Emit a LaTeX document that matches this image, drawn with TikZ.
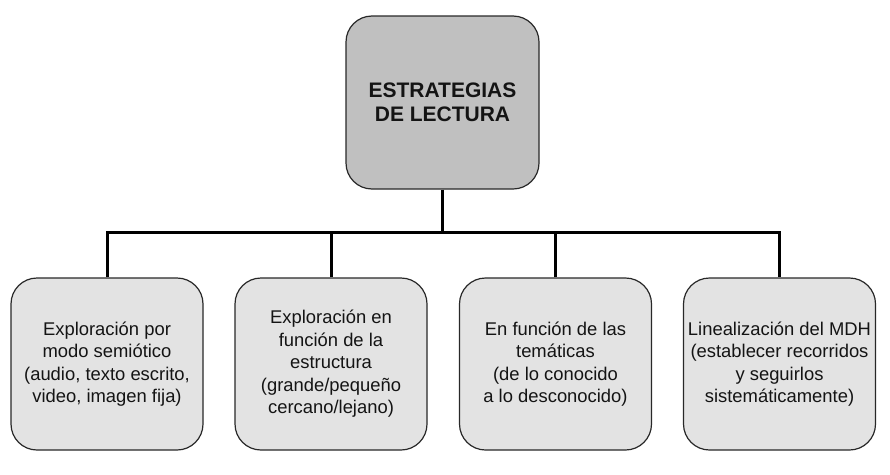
\documentclass[tikz,border=0pt]{standalone}
\usepackage{fontspec}
\setmainfont{Liberation Sans}
\definecolor{topfill}{RGB}{192,192,192}
\definecolor{boxfill}{RGB}{227,227,227}
\definecolor{edge}{RGB}{40,40,40}
\definecolor{txt}{RGB}{20,20,20}
\begin{document}
\begin{tikzpicture}[x=1pt,y=-1pt,
  box/.style={draw=edge, line width=1.2pt, rounded corners=26pt, fill=boxfill,
    minimum width=192pt, minimum height=172pt, align=center, inner sep=0pt,
    text=txt, font=\fontsize{18.4}{22.5}\selectfont},
  topbox/.style={box, fill=topfill, minimum width=193pt, minimum height=173pt,
    font=\fontsize{21}{24.5}\selectfont\bfseries},
  conn/.style={line width=3pt, black, line join=miter}]
\useasboundingbox (0,0) rectangle (890,474);
\node[topbox] (top) at (442.5,102.5) {ESTRATEGIAS\\DE LECTURA};
\node[box] (b1) at (107,364) {Exploración por\\modo semiótico\\(audio, texto escrito,\\video, imagen fija)};
\node[box] (b2) at (331,364) {Exploración en\\función de la\\estructura\\(grande/pequeño\\cercano/lejano)};
\node[box] (b3) at (555.5,364) {En función de las\\temáticas\\(de lo conocido\\a lo desconocido)};
\node[box] (b4) at (779.5,364) {Linealización del MDH\\(establecer recorridos\\y seguirlos\\sistemáticamente)};
\coordinate (bus) at (442.5,232);
\draw[conn] (top.south) -- (bus);
\draw[conn] (b1.north) |- (bus) -| (b4.north);
\draw[conn] (b2.north) -- (b2.north |- bus);
\draw[conn] (b3.north) -- (b3.north |- bus);
\end{tikzpicture}
\end{document}
